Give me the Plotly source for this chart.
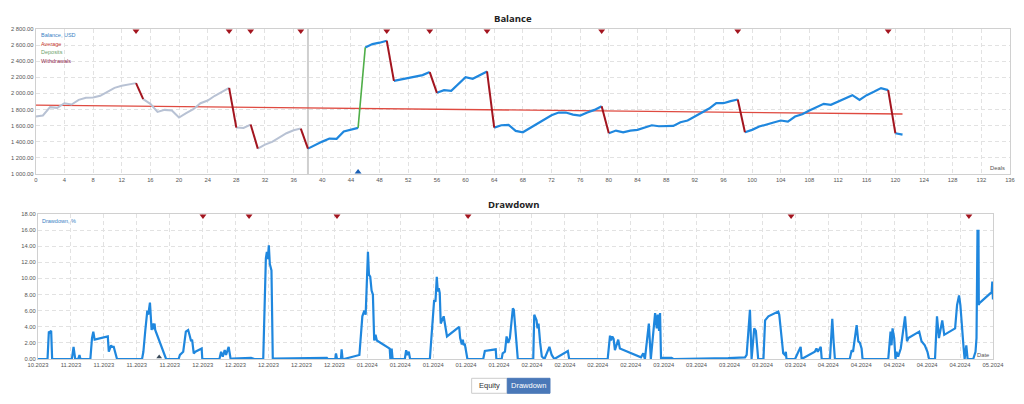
import plotly.graph_objects as go

# ---------------- Balance data ----------------
deals = list(range(122))
balance = [
    1713, 1726, 1830, 1821, 1879, 1863, 1921, 1946, 1950, 1971,
    2020, 2070, 2095, 2107, 2128, 1929, 1871, 1771, 1796, 1788,
    1701, 1755, 1805, 1879, 1912, 1971, 2020, 2070, 1576, 1572,
    1614, 1315, 1365, 1398, 1456, 1506, 1543, 1564, 1315, 1361,
    1402, 1440, 1436, 1527, 1548, 1572, 2572, 2613, 2630, 2655,
    2157, 2173, 2190, 2203, 2228, 2265, 2008, 2041, 2033, 2120,
    2203, 2182, 2228, 2273, 1576, 1605, 1610, 1535, 1518, 1572,
    1630, 1676, 1730, 1763, 1763, 1738, 1726, 1763, 1796, 1842,
    1506, 1539, 1518, 1539, 1548, 1572, 1605, 1593, 1597, 1597,
    1643, 1664, 1713, 1763, 1813, 1879, 1879, 1904, 1925, 1518,
    1548, 1589, 1618, 1639, 1664, 1651, 1713, 1742, 1788, 1825,
    1871, 1859, 1900, 1937, 1979, 1921, 1979, 2020, 2066, 2041,
    1506, 1489,
]
withdrawal_deals = [14, 27, 30, 37, 49, 55, 63, 79, 98, 119]
deposit_deals = [45]
history_end_deal = 38
average_start = 1855
average_end = 1745

# ---------------- Drawdown data ----------------
dd_t = [
    0.00, 0.29, 0.33, 0.36, 0.40, 0.43,
    1.03, 1.08, 1.13, 1.22, 1.26, 1.29,
    1.59, 1.64, 1.68, 1.72, 2.12, 2.15, 2.22, 2.25, 2.30, 2.40,
    3.16, 3.20, 3.26, 3.32, 3.35, 3.40, 3.43, 3.45, 3.48, 3.51, 3.54, 3.56, 3.89,
    4.27, 4.31, 4.37, 4.41, 4.49, 4.56, 4.60, 4.65, 4.68, 4.73, 4.78, 4.97, 4.99,
    5.51, 5.56, 5.61, 5.67, 5.71, 5.79, 5.85,
    5.91, 6.47, 6.57, 6.84, 6.92, 6.95, 6.98, 7.01, 7.04, 7.09, 7.13,
    7.15, 8.77, 8.80,
    9.03, 9.05, 9.08, 9.20, 9.22, 9.25, 9.29, 9.76, 9.85, 9.91, 9.95, 10.02,
    10.05, 10.09, 10.13, 10.17, 10.21, 10.25, 10.29, 10.68, 10.70, 10.74, 10.77,
    11.14, 11.18, 11.21, 11.26, 11.30,
    11.90, 11.99, 12.03, 12.07, 12.11, 12.14, 12.17, 12.20, 12.23, 12.29, 12.32,
    12.42, 12.79, 12.82, 12.87, 12.90, 12.93, 12.96, 13.00, 13.04,
    13.52, 13.57, 13.90, 13.92, 14.08, 14.11, 14.18, 14.23, 14.28, 14.33, 14.42,
    14.45, 14.57,
    15.04, 15.07, 15.14, 15.17, 15.20, 15.25, 15.30, 15.38, 15.53, 15.60, 15.68,
    16.09, 16.13,
    17.30, 17.37, 17.40, 17.44, 17.48, 17.52, 17.62, 17.67, 18.31, 18.38, 18.43,
    18.55, 18.61, 18.74, 18.79, 18.82, 18.86, 18.89, 18.92, 18.96, 19.24, 19.29,
    20.96, 21.47, 21.52, 21.62, 21.67, 21.75, 21.80, 21.87,
    22.03, 22.08, 22.18, 22.48, 22.51, 22.63, 22.68, 22.71, 22.73,
    22.99, 23.09, 23.16, 23.19, 23.59, 23.64, 23.68, 23.77, 23.80,
    24.05, 24.12, 24.16, 24.20,
    24.65, 24.71, 24.75, 24.86, 24.91, 24.96, 25.01, 25.04,
    25.82, 25.89, 25.92, 25.95, 26.00, 26.04, 26.07, 26.12, 26.20, 26.33, 26.39,
    26.43, 26.76, 26.83, 26.93, 26.98, 27.01, 27.06,
    27.24, 27.30, 27.36, 27.46, 27.52, 27.85, 27.91, 27.97, 28.01, 28.11, 28.14,
    28.19, 28.23, 28.40, 28.47, 28.50, 28.53, 28.56, 28.57, 28.58, 28.96, 28.98,
    29.00,
]
dd_v = [
    0, 0, 3.4, 3.3, 3.5, 0,
    0, 1.5, 0, 0, 0.5, 0,
    0, 2.6, 3.4, 2.4, 2.8, 0.9, 1.7, 1.5, 1.5, 0,
    0, 0.9, 3.6, 6.0, 5.5, 7.0, 5.0, 3.6, 4.4, 3.7, 4.4, 3.6, 0,
    0, 0.5, 0.7, 0.9, 3.4, 3.6, 3.0, 2.2, 2.4, 0.7, 0.9, 1.3, 0,
    0, 0.9, 0.3, 1.1, 0.5, 1.5, 0,
    0.05, 0.15, 0, 0, 12.5, 13.3, 12.4, 14.1, 11.8, 11.0, 0,
    0.05, 0.15, 0,
    0, 0.7, 0, 0, 1.2, 0, 0, 0.5, 5.3, 6.0, 5.5, 13.3,
    10.5, 10.2, 8.5, 8.0, 2.3, 3.0, 2.3, 1.3, 0, 1.3, 0,
    0, 1.1, 0.5, 0.9, 0,
    0, 5.9, 7.3, 7.1, 10.2, 8.4, 8.8, 8.2, 4.4, 5.0, 5.3,
    2.8, 4.0, 2.6, 1.8, 2.4, 1.7, 1.9, 0.9, 0,
    0, 1.0, 1.2, 0, 0, 0.7, 0.9, 2.8, 2.0, 2.6, 6.3,
    6.1, 0,
    0, 5.5, 4.8, 3.8, 4.4, 2.0, 0.3, 0, 1.5, 0.5, 0,
    1.0, 0,
    0, 2.9, 2.3, 2.8, 2.5, 1.1, 2.4, 1.3, 0.2, 0.7, 0,
    4.4, 0, 5.7, 3.8, 5.5, 3.5, 5.7, 0, 0.15, 0.15, 0,
    0.1, 0.2, 0.5, 6.1, 0, 3.8, 3.5, 0,
    0, 4.8, 5.3, 5.9, 5.5, 0.7, 0.5, 0.9, 0,
    0, 0.9, 1.5, 0, 0.9, 1.3, 0.9, 1.5, 0,
    0, 5.0, 2.2, 0,
    0, 1.1, 0.9, 4.2, 2.2, 2.0, 1.3, 0,
    0, 3.4, 1.7, 3.8, 2.6, 0, 0.9, 0.3, 1.3, 5.3, 2.2,
    2.6, 3.4, 2.2, 1.7, 1.3, 0.9, 0,
    0, 5.3, 2.6, 4.8, 3.0, 3.8, 6.7, 7.9, 6.7, 1.3, 0,
    1.7, 0, 0, 0.9, 2.6, 15.9, 15.9, 6.7, 6.9, 8.3, 9.6,
    7.4,
]
dd_tick_labels = (["10.2023"] + ["11.2023"] * 4 + ["12.2023"] * 5 + ["01.2024"] * 5
                  + ["02.2024"] * 4 + ["03.2024"] * 5 + ["04.2024"] * 5 + ["05.2024"])
dd_withdrawal_t = [5.01, 6.41, 9.08, 13.06, 22.87, 28.27]
dd_deposit_t = [3.68]

# ---------------- Colours ----------------
C_BLUE = "#1f87de"
C_GREY = "#b8c2d4"
C_WD = "#a3151f"
C_DEP = "#4fae48"
C_AVG = "#df4a40"
C_GRID = "#e2e2e2"
C_AXIS = "#d0d0d0"
C_TXT = "#555555"

# ---------------- Build balance segments ----------------
groups = {"grey": ([], []), "blue": ([], []), "wd": ([], []), "dep": ([], [])}
for i in range(len(deals) - 1):
    if deals[i] in withdrawal_deals:
        key = "wd"
    elif deals[i] in deposit_deals:
        key = "dep"
    elif deals[i + 1] < history_end_deal:
        key = "grey"
    else:
        key = "blue"
    xs, ys = groups[key]
    if xs and xs[-1] == deals[i]:
        xs.append(deals[i + 1]); ys.append(balance[i + 1])
    else:
        if xs:
            xs.append(None); ys.append(None)
        xs += [deals[i], deals[i + 1]]
        ys += [balance[i], balance[i + 1]]

fig = go.Figure()
fig.add_trace(go.Scatter(x=[deals[0], deals[-1]], y=[average_start, average_end], mode="lines",
                         line=dict(color=C_AVG, width=1.3), xaxis="x", yaxis="y"))
fig.add_trace(go.Scatter(x=groups["grey"][0], y=groups["grey"][1], mode="lines",
                         line=dict(color=C_GREY, width=2), xaxis="x", yaxis="y"))
fig.add_trace(go.Scatter(x=groups["blue"][0], y=groups["blue"][1], mode="lines",
                         line=dict(color=C_BLUE, width=2.2), xaxis="x", yaxis="y"))
fig.add_trace(go.Scatter(x=groups["wd"][0], y=groups["wd"][1], mode="lines",
                         line=dict(color=C_WD, width=2), xaxis="x", yaxis="y"))
fig.add_trace(go.Scatter(x=groups["dep"][0], y=groups["dep"][1], mode="lines",
                         line=dict(color=C_DEP, width=1.6), xaxis="x", yaxis="y"))
fig.add_trace(go.Scatter(x=withdrawal_deals, y=[2775] * len(withdrawal_deals), mode="markers",
                         marker=dict(symbol="triangle-down", size=6, color=C_WD),
                         cliponaxis=False, xaxis="x", yaxis="y"))
fig.add_trace(go.Scatter(x=deposit_deals, y=[1025] * len(deposit_deals), mode="markers",
                         marker=dict(symbol="triangle-up", size=6, color="#1a5fb4"),
                         cliponaxis=False, xaxis="x", yaxis="y"))

# ---------------- Drawdown ----------------
fig.add_trace(go.Scatter(x=dd_t, y=dd_v, mode="lines",
                         line=dict(color=C_BLUE, width=2.2), xaxis="x2", yaxis="y2"))
fig.add_trace(go.Scatter(x=dd_withdrawal_t, y=[17.75] * len(dd_withdrawal_t), mode="markers",
                         marker=dict(symbol="triangle-down", size=6, color=C_WD),
                         cliponaxis=False, xaxis="x2", yaxis="y2"))
fig.add_trace(go.Scatter(x=dd_deposit_t, y=[0.25] * len(dd_deposit_t), mode="markers",
                         marker=dict(symbol="triangle-up", size=5, color="#3a4a5a"),
                         cliponaxis=False, xaxis="x2", yaxis="y2"))

axis_common = dict(showgrid=True, gridcolor=C_GRID, griddash="4px,3px", gridwidth=1,
                   showline=True, mirror=True, linecolor=C_AXIS, linewidth=1,
                   zeroline=False, ticks="", automargin=False,
                   tickfont=dict(family="Liberation Sans, Arial, sans-serif", size=5.8, color=C_TXT))

fig.update_layout(
    width=1024, height=404,
    margin=dict(l=0, r=0, t=0, b=0),
    paper_bgcolor="white", plot_bgcolor="white",
    showlegend=False,
    separators=". ",
    font=dict(family="Liberation Sans, Arial, sans-serif", size=6, color=C_TXT),
    xaxis=dict(domain=[0.0349, 0.9863], anchor="y", range=[0, 136], tick0=0, dtick=4, **axis_common),
    yaxis=dict(domain=[0.5693, 0.9282], anchor="x", range=[1000, 2800], tick0=1000, dtick=200,
               tickformat=",.2f", **axis_common),
    xaxis2=dict(domain=[0.0371, 0.9697], anchor="y2", range=[0, 29],
                tickmode="array", tickvals=list(range(len(dd_tick_labels))), ticktext=dd_tick_labels,
                **axis_common),
    yaxis2=dict(domain=[0.1114, 0.4703], anchor="x2", range=[0, 18], tick0=0, dtick=2,
                tickformat=".2f", **axis_common),
)

# vertical marker of history start
fig.add_shape(type="line", xref="x", yref="y", x0=history_end_deal, x1=history_end_deal,
              y0=1000, y1=2800, line=dict(color="#cfcfcf", width=2), layer="below")

# titles
title_font = dict(family="Open Sans, Liberation Sans, sans-serif", size=9.5, color="#222")
fig.add_annotation(text="<b>Balance</b>", xref="paper", yref="paper", x=0.501, y=0.9554,
                   xanchor="center", yanchor="middle", showarrow=False, font=title_font)
fig.add_annotation(text="<b>Drawdown</b>", xref="paper", yref="paper", x=0.502, y=0.4926,
                   xanchor="center", yanchor="middle", showarrow=False, font=title_font)

# legends inside plots
legend_items = [("Balance, USD", "#3a7fc4"), ("Average", "#c8392e"), ("Deposits", "#6a9f6a"), ("Withdrawals", "#8e1f4c")]
legend_y = [0.9134, 0.8923, 0.8713, 0.8502]
for (txt, col), yy in zip(legend_items, legend_y):
    fig.add_annotation(text=txt, xref="paper", yref="paper", x=0.038, y=yy, xanchor="left",
                       yanchor="middle", showarrow=False, font=dict(size=5.5, color=col))
fig.add_annotation(text="Drawdown, %", xref="paper", yref="paper", x=0.039, y=0.4537, xanchor="left",
                   yanchor="middle", showarrow=False, font=dict(size=5.5, color="#3a7fc4"))
fig.add_annotation(text="Deals", xref="paper", yref="paper", x=0.983, y=0.584, xanchor="right",
                   yanchor="middle", showarrow=False, font=dict(size=5.8, color=C_TXT))
fig.add_annotation(text="Date", xref="paper", yref="paper", x=0.968, y=0.121, xanchor="right",
                   yanchor="middle", showarrow=False, font=dict(size=5.8, color=C_TXT))

# toggle buttons (static)
fig.add_shape(type="rect", xref="paper", yref="paper", x0=0.4606, x1=0.4954, y0=0.0265, y1=0.0636,
              line=dict(color="#cccccc", width=1), fillcolor="white")
fig.add_shape(type="rect", xref="paper", yref="paper", x0=0.4954, x1=0.5371, y0=0.0265, y1=0.0636,
              line=dict(color="#4a78b8", width=1), fillcolor="#4a78b8")
fig.add_annotation(text="Equity", xref="paper", yref="paper", x=0.478, y=0.045, xanchor="center",
                   yanchor="middle", showarrow=False, font=dict(size=7.5, color="#333"))
fig.add_annotation(text="Drawdown", xref="paper", yref="paper", x=0.5163, y=0.045, xanchor="center",
                   yanchor="middle", showarrow=False, font=dict(size=7.5, color="white"))

fig.write_html("out.html", config={"displayModeBar": False},
               post_script="document.body.style.margin='0';")
